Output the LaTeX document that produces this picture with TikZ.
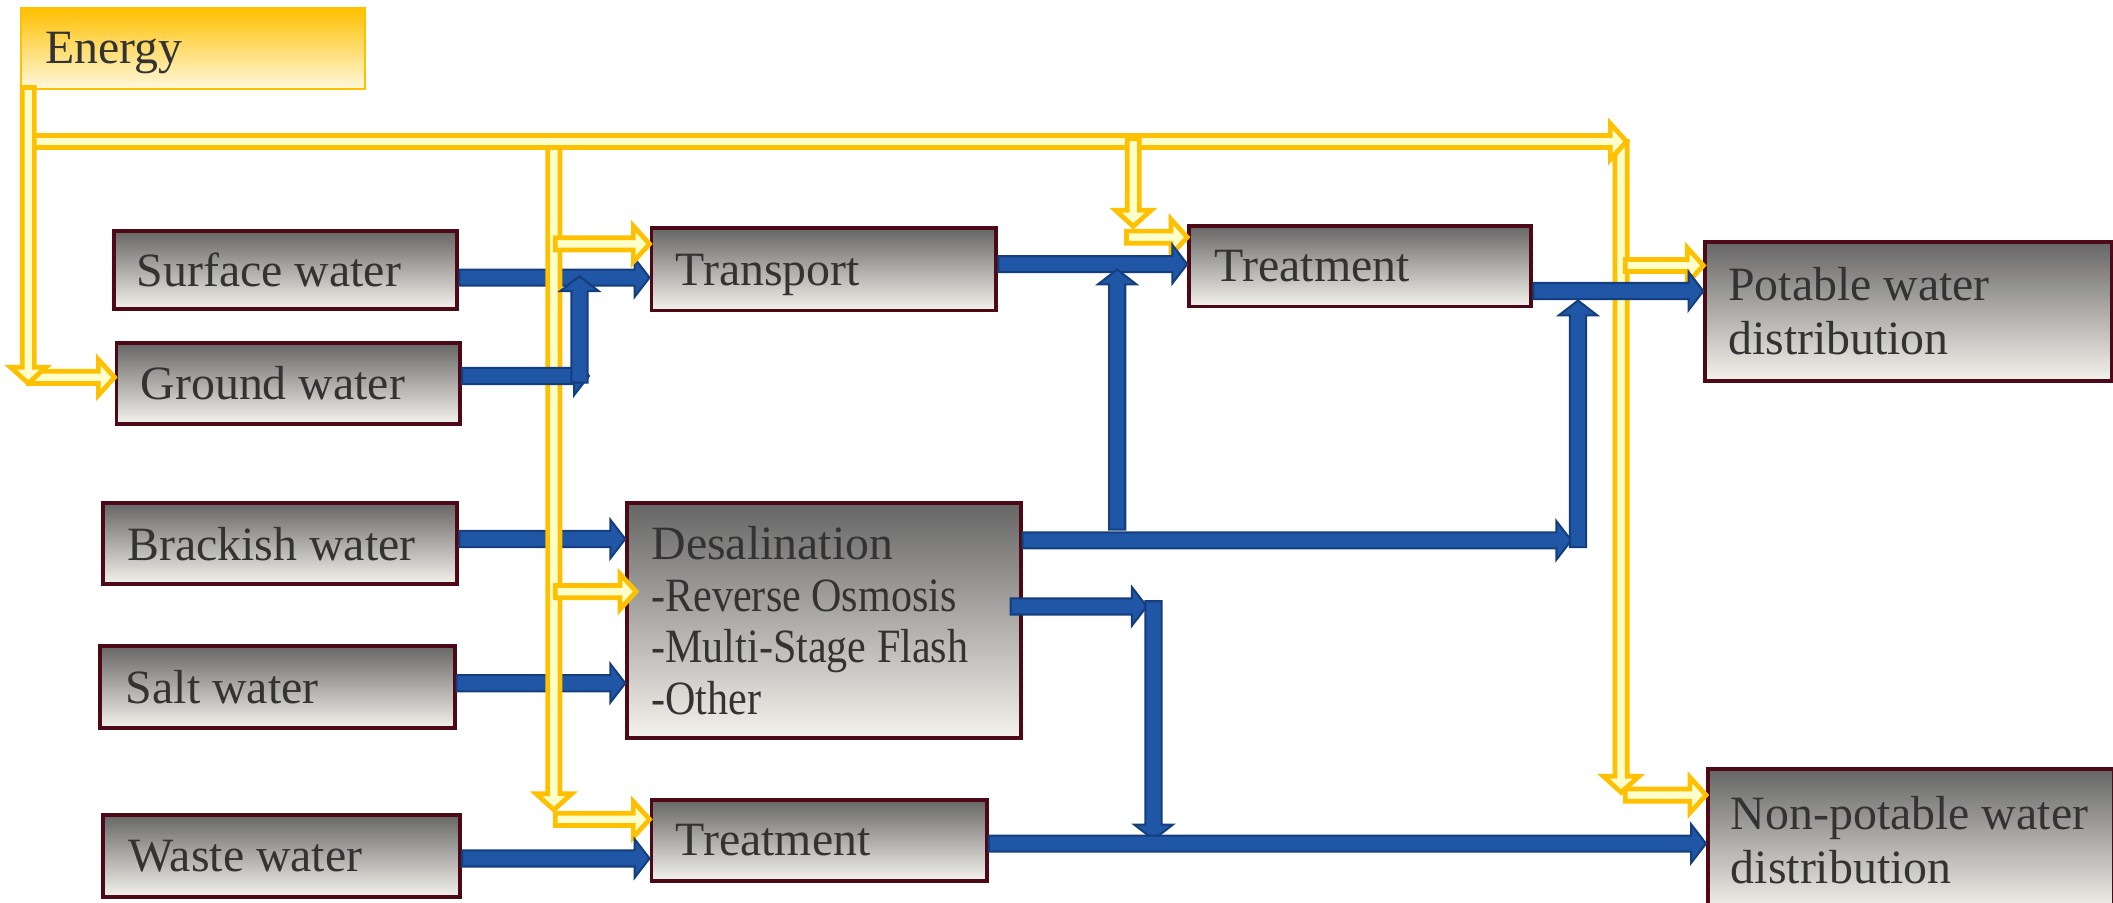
\documentclass[tikz,border=0pt]{standalone}
\usepackage{fontspec}
\usepackage{graphicx}
\setmainfont{Liberation Serif}
\usetikzlibrary{calc}
\definecolor{boxline}{HTML}{4D0A16}
\definecolor{gtop}{HTML}{666666}
\definecolor{gbot}{HTML}{F4F2EC}
\definecolor{txt}{HTML}{333333}
\definecolor{eorange}{HTML}{FFC000}
\definecolor{elight}{HTML}{FFF8DC}
\definecolor{ylight}{HTML}{FFFFCC}
\definecolor{bfill}{HTML}{1F56A6}
\definecolor{bline}{HTML}{143E7C}
% block arrow: #1 style, #2 from, #3 to, #4 shaft half width, #5 head half width, #6 head length
\newcommand{\blockarrow}[6]{%
  \draw[#1] let \p1=#2, \p2=#3, \n1={atan2(\y2-\y1,\x2-\x1)} in
   ($(\p1)+({\n1+90}:#4)$) -- ($(\p2)+({\n1+180}:#6)+({\n1+90}:#4)$) --
   ($(\p2)+({\n1+180}:#6)+({\n1+90}:#5)$) -- (\p2) --
   ($(\p2)+({\n1+180}:#6)+({\n1-90}:#5)$) -- ($(\p2)+({\n1+180}:#6)+({\n1-90}:#4)$) --
   ($(\p1)+({\n1-90}:#4)$) -- cycle;}
\newcommand{\barr}[2]{\blockarrow{bluearr}{#1}{#2}{0.12cm}{0.285cm}{0.22cm}}
\newcommand{\yarr}[2]{\blockarrow{yelarr}{#1}{#2}{0.09cm}{0.265cm}{0.24cm}}
\newcommand{\narrow}[1]{\scalebox{0.88}[1]{#1}}
\tikzset{
  wbox/.style={draw=boxline, line width=0.058cm, top color=gtop, bottom color=gbot,
    anchor=north west, align=flush left, inner ysep=0pt, text=txt,
    font=\fontsize{20.2}{22.5}\selectfont},
  onel/.style={text depth=0pt},
  ebox/.style={draw=eorange, line width=0.03cm, top color=eorange, bottom color=elight,
    anchor=north west, align=flush left, inner ysep=0pt, text=txt, text depth=0pt,
    font=\fontsize{20.2}{22.5}\selectfont},
  bluearr/.style={fill=bfill, draw=bline, line width=0.03cm, line join=miter},
  yelarr/.style={fill=ylight, draw=eorange, line width=0.07cm, line join=miter}
}
\begin{document}
\begin{tikzpicture}[x=0.02cm, y=-0.02cm]
\fill[white] (0,0) rectangle (1568,670);
\useasboundingbox (0,0) rectangle (1568,670);

% boxes
\node[ebox, text width=4.38cm, inner xsep=0.36cm, minimum height=1.2cm] (energy) at (15,5) {Energy};
\node[wbox, onel, text width=4.42cm, inner xsep=0.34cm, minimum height=1.16cm] (surf) at (83,170) {Surface water};
\node[wbox, onel, text width=4.38cm, inner xsep=0.36cm, minimum height=1.2cm] (ground) at (85,253) {Ground water};
\node[wbox, onel, text width=4.40cm, inner xsep=0.36cm, minimum height=1.22cm] (trans) at (482,168) {Transport};
\node[wbox, onel, text width=4.32cm, inner xsep=0.38cm, minimum height=1.2cm] (treat) at (881,166) {Treatment};
\node[wbox, text width=5.36cm, inner xsep=0.34cm, minimum height=2.06cm] (pot) at (1264,178) {Potable water\\distribution};
\node[wbox, onel, text width=4.54cm, inner xsep=0.36cm, minimum height=1.2cm] (brack) at (75,372) {Brackish water};
\node[wbox, text width=5.12cm, inner xsep=0.36cm, minimum height=3.48cm,
      font=\fontsize{20.2}{21.8}\selectfont] (desal) at (464,372)
      {Desalination\\\narrow{-Reverse Osmosis}\\\narrow{-Multi-Stage Flash}\\\narrow{-Other}};
\node[wbox, onel, text width=4.50cm, inner xsep=0.38cm, minimum height=1.22cm] (salt) at (73,478) {Salt water};
\node[wbox, onel, text width=4.54cm, inner xsep=0.38cm, minimum height=1.22cm] (waste) at (75,603) {Waste water};
\node[wbox, onel, text width=4.26cm, inner xsep=0.36cm, minimum height=1.2cm] (treat2) at (482,592) {Treatment};
\node[wbox, text width=5.34cm, inner xsep=0.34cm, minimum height=2.12cm] (nonpot) at (1266,569) {Non-potable water\\distribution};

% junction coordinates (water)
\coordinate (gtip) at (437,279);
\coordinate (gup) at (430,284);
\coordinate (gupt) at (430,205);
\coordinate (dup) at (829,393);
\coordinate (dupt) at (829,200);
\coordinate (dtip) at (1166,401);
\coordinate (pup) at (1171,406);
\coordinate (pupt) at (1171,223);
\coordinate (nstart) at (750,450);
\coordinate (ntip) at (851,450);
\coordinate (ndn) at (856,446);
\coordinate (ndnt) at (856,623);
% junction coordinates (energy)
\coordinate (ev) at (21,65);
\coordinate (eh) at (21,105);
\coordinate (ehtip) at (1207,105);
\coordinate (v1) at (411,105);
\coordinate (v1t) at (411,601);
\coordinate (v2) at (841,103);
\coordinate (v2t) at (841,168);
\coordinate (v3) at (1203,105);
\coordinate (v3t) at (1203,588);
\coordinate (gb) at (21,280);
\coordinate (tb) at (412,181);
\coordinate (db) at (412,439);
\coordinate (dbt) at (472,439);
\coordinate (t2b) at (412,608);
\coordinate (t1b) at (836,176);
\coordinate (pb) at (1206,197);
\coordinate (nb) at (1206,590);

% water flows lying under the energy lines
\barr{(surf.east |- 0,206)}{(trans.west |- 0,206)}
\barr{(brack.east |- 0,400)}{(desal.west |- 0,400)}
\barr{(salt.east |- 0,507)}{(desal.west |- 0,507)}

% energy lines
\yarr{(v1)}{(v1t)}
\yarr{(v3)}{(v3t)}
\yarr{(eh)}{(ehtip)}
\yarr{(gb)}{(ground.west |- gb)}
\yarr{(ev)}{(ground.west -| ev)}
\yarr{(v2)}{(v2t)}
\yarr{(tb)}{(trans.west |- tb)}
\yarr{(db)}{(dbt)}
\yarr{(t2b)}{(treat2.west |- t2b)}
\yarr{(t1b)}{(treat.west |- t1b)}
\yarr{(pb)}{(pot.west |- pb)}
\yarr{(nb)}{(nonpot.west |- nb)}

% remaining water flows
\barr{(ground.east |- gtip)}{(gtip)}
\barr{(gup)}{(gupt)}
\barr{(trans.east |- 0,196)}{(treat.west |- 0,196)}
\barr{(desal.east |- dtip)}{(dtip)}
\barr{(dup)}{(dupt)}
\barr{(pup)}{(pupt)}
\barr{(treat.east |- 0,216)}{(pot.west |- 0,216)}
\barr{(nstart)}{(ntip)}
\barr{(ndn)}{(ndnt)}
\barr{(waste.east |- 0,637)}{(treat2.west |- 0,637)}
\barr{(treat2.east |- 0,626)}{(nonpot.west |- 0,626)}
\end{tikzpicture}
\end{document}
